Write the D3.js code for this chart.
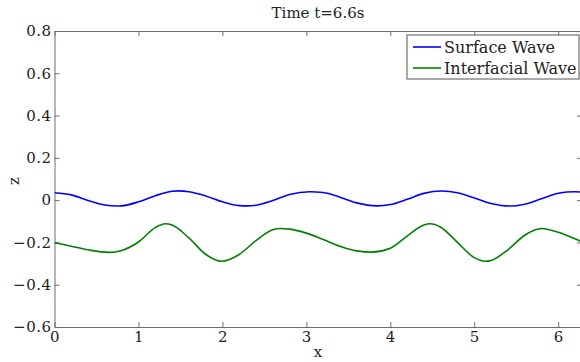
<!DOCTYPE html>
<html>
<head>
<meta charset="utf-8">
<script src="https://cdn.jsdelivr.net/npm/d3@7"></script>
<style>
  body { margin: 0; background: #fff; }
  .axis text { font-family: "DejaVu Serif", serif; font-size: 15px; letter-spacing: 0.5px; fill: #222; }
  .axis path, .axis line { stroke: #6e6e6e; }
  .lbl { font-family: "DejaVu Serif", serif; fill: #222; }
</style>
</head>
<body>
<div id="chart"></div>
<script>
// surface wave
const surfaceX = [0, 0.2, 0.4, 0.6, 0.74, 0.8, 1.0, 1.2, 1.4, 1.48, 1.6, 1.8, 2.0, 2.2, 2.29, 2.4, 2.6, 2.8, 3.04, 3.2, 3.4, 3.6, 3.84, 4.0, 4.2, 4.4, 4.61, 4.8, 5.0, 5.2, 5.42, 5.6, 5.8, 6.0, 6.2, 6.283];
const surfaceZ = [0.035, 0.025, -0.002, -0.023, -0.028, -0.027, -0.008, 0.021, 0.042, 0.044, 0.040, 0.020, -0.008, -0.026, -0.027, -0.024, -0.002, 0.027, 0.040, 0.036, 0.014, -0.013, -0.027, -0.021, 0.004, 0.032, 0.043, 0.035, 0.010, -0.016, -0.028, -0.019, 0.007, 0.033, 0.040, 0.037];

// interfacial wave
const interX = [0, 0.2, 0.4, 0.65, 0.8, 1.0, 1.2, 1.32, 1.4, 1.6, 1.8, 1.99, 2.2, 2.4, 2.6, 2.69, 2.8, 3.0, 3.2, 3.4, 3.6, 3.78, 4.0, 4.2, 4.4, 4.47, 4.6, 4.8, 5.0, 5.13, 5.2, 5.4, 5.6, 5.8, 6.0, 6.2, 6.283];
const interZ = [-0.200, -0.218, -0.235, -0.247, -0.238, -0.198, -0.130, -0.112, -0.118, -0.178, -0.256, -0.289, -0.257, -0.191, -0.140, -0.134, -0.137, -0.156, -0.186, -0.218, -0.240, -0.246, -0.228, -0.170, -0.118, -0.112, -0.128, -0.200, -0.272, -0.289, -0.285, -0.235, -0.166, -0.134, -0.152, -0.183, -0.197];

const xTicks = [0, 1, 2, 3, 4, 5, 6];
const yTicks = [0.8, 0.6, 0.4, 0.2, 0, -0.2, -0.4, -0.6];
const seriesNames = ["Surface Wave", "Interfacial Wave"];

const dims = {
  width: 580, height: 362,
  marginTop: 31, marginLeft: 54.5, marginRight: -2, marginBottom: 35
};
dims.boundedWidth = dims.width - dims.marginLeft - dims.marginRight;
dims.boundedHeight = dims.height - dims.marginTop - dims.marginBottom;

const svg = d3.select("#chart").append("svg")
  .attr("width", dims.width)
  .attr("height", dims.height);

const bounds = svg.append("g")
  .attr("transform", `translate(${dims.marginLeft},${dims.marginTop})`);

const xScale = d3.scaleLinear().domain([0, 2 * Math.PI]).range([0, dims.boundedWidth]);
const yScale = d3.scaleLinear().domain([-0.6, 0.8]).range([dims.boundedHeight, 0]);

// axes, ticks pointing inward on all four sides
bounds.append("g").attr("class", "axis")
  .attr("transform", `translate(0,${dims.boundedHeight})`)
  .call(d3.axisBottom(xScale).tickValues(xTicks).tickFormat(d3.format("d")).tickSizeInner(-5).tickSizeOuter(0).tickPadding(4));
bounds.append("g").attr("class", "axis")
  .call(d3.axisTop(xScale).tickValues(xTicks).tickFormat("").tickSizeInner(-5).tickSizeOuter(0));
bounds.append("g").attr("class", "axis")
  .call(d3.axisLeft(yScale).tickValues(yTicks).tickFormat(d => d === 0 ? "0" : d3.format(".1f")(d)).tickSizeInner(-5).tickSizeOuter(0).tickPadding(3));
bounds.append("g").attr("class", "axis")
  .attr("transform", `translate(${dims.boundedWidth},0)`)
  .call(d3.axisRight(yScale).tickValues(yTicks).tickFormat("").tickSizeInner(-5).tickSizeOuter(0));

bounds.append("clipPath").attr("id", "clip")
  .append("rect").attr("width", dims.boundedWidth).attr("height", dims.boundedHeight);

const line = d3.line()
  .x(d => xScale(d[0]))
  .y(d => yScale(d[1]))
  .curve(d3.curveMonotoneX);

const series = [
  { name: seriesNames[0], color: "#0000ff", pts: d3.zip(surfaceX, surfaceZ) },
  { name: seriesNames[1], color: "#008000", pts: d3.zip(interX, interZ) }
];

bounds.append("g").attr("clip-path", "url(#clip)")
  .selectAll("path").data(series).join("path")
    .attr("d", d => line(d.pts))
    .attr("fill", "none")
    .attr("stroke", d => d.color)
    .attr("stroke-width", 1.6);

// labels
svg.append("text").attr("class", "lbl")
  .attr("x", 318).attr("y", 18)
  .attr("text-anchor", "middle")
  .style("font-size", "15px")
  .text("Time t=6.6s");
svg.append("text").attr("class", "lbl")
  .attr("x", 318).attr("y", 357)
  .attr("text-anchor", "middle")
  .style("font-size", "15px")
  .text("x");
svg.append("text").attr("class", "lbl")
  .attr("transform", "translate(19,181) rotate(-90)")
  .attr("text-anchor", "middle")
  .style("font-size", "15px")
  .text("z");

// legend
const legend = svg.append("g").attr("transform", "translate(407,35)");
legend.append("rect")
  .attr("width", 172).attr("height", 44)
  .attr("fill", "#fff").attr("stroke", "#555").attr("stroke-width", 1);
const items = legend.selectAll("g.item").data(series).join("g")
  .attr("class", "item")
  .attr("transform", (d, i) => `translate(0,${12 + i * 21})`);
items.append("line")
  .attr("x1", 6).attr("x2", 34)
  .attr("stroke", d => d.color).attr("stroke-width", 1.6);
items.append("text").attr("class", "lbl")
  .attr("x", 37).attr("dy", "0.35em")
  .style("font-size", "16px")
  .text(d => d.name);
</script>
</body>
</html>
